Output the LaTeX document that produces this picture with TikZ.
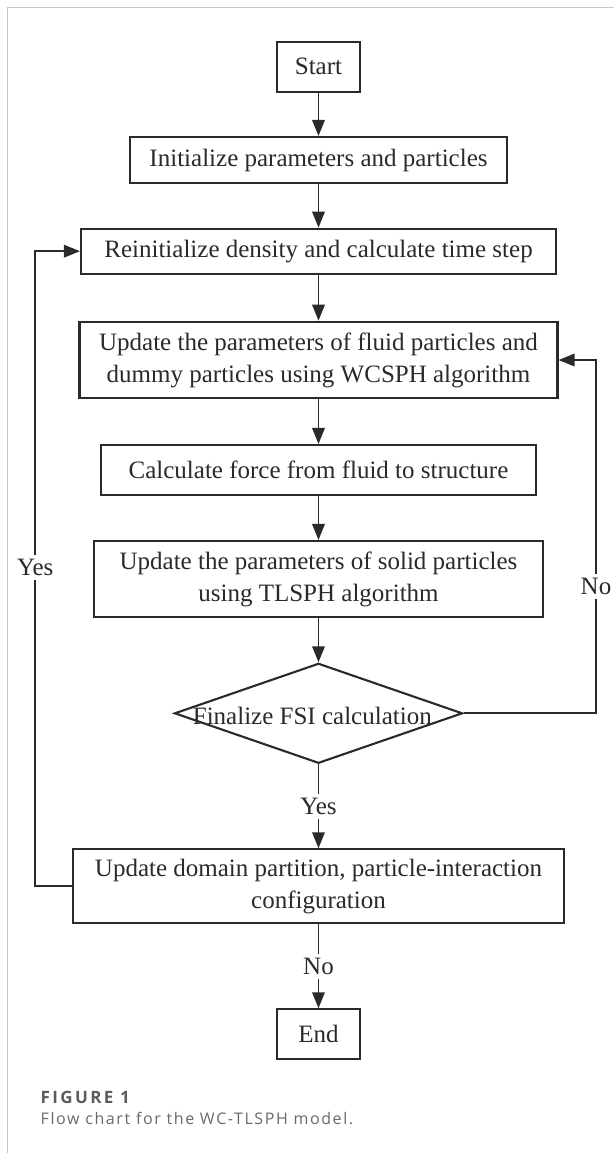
\documentclass[tikz,border=0pt]{standalone}
\usepackage{fontspec}
\setmainfont{Liberation Serif}
\newfontfamily\capfont[LetterSpace=10]{Open Sans}
\newfontfamily\caplabelfont[LetterSpace=14]{Open Sans}
\usetikzlibrary{shapes.geometric,arrows.meta}
\definecolor{ink}{HTML}{2A2A2A}
\definecolor{framegray}{HTML}{C8C8C8}
\definecolor{capdark}{HTML}{5C5C5C}
\definecolor{caplight}{HTML}{6A6A6A}
\tikzset{
  flowtext/.style={text=ink, font=\fontsize{25}{32}\selectfont},
  flowbox/.style={flowtext, draw=ink, line width=2.1pt, inner sep=0pt, align=center},
  flowarrow/.style={draw=ink, line width=1.9pt, -{Triangle[length=16pt,width=12.5pt]}},
  branch/.style={flowtext, fill=white, inner sep=4pt},
}
\begin{document}
\begin{tikzpicture}[x=1pt, y=-1pt]
  % page
  \fill[white] (0,0) rectangle (614,1153);
  \useasboundingbox (0,0) rectangle (614,1153);
  \draw[framegray, line width=1.2pt] (7.3,1153) -- (7.3,7.3) -- (614,7.3);

  % steps
  \node[flowbox, minimum width=83pt, minimum height=50pt] (start) at (318.5,66.7) {Start};
  \node[flowbox, minimum width=377pt, minimum height=46pt] (init) at (318.5,160) {Initialize parameters and particles};
  \node[flowbox, minimum width=475pt, minimum height=45pt] (reinit) at (318.5,251.2) {Reinitialize density and calculate time step};
  \node[flowbox, minimum width=478pt, minimum height=76.6pt] (fluid) at (318.5,360) {Update the parameters of fluid particles and\\dummy particles using WCSPH algorithm};
  \node[flowbox, minimum width=435pt, minimum height=50pt] (force) at (318.5,470) {Calculate force from fluid to structure};
  \node[flowbox, minimum width=449pt, minimum height=76pt] (solid) at (318.5,579) {Update the parameters of solid particles\\using TLSPH algorithm};
  \node[diamond, draw=ink, line width=2.1pt, minimum width=288pt, minimum height=100pt, inner sep=0pt] (dec) at (318.5,713.3) {};
  \node[flowtext, anchor=base, inner sep=0pt] (dectext) at (312.3,724) {Finalize FSI calculation};
  \node[flowbox, minimum width=491pt, minimum height=74pt] (domain) at (318.5,886.3) {Update domain partition, particle-interaction\\configuration};
  \node[flowbox, minimum width=83pt, minimum height=50pt] (end) at (318.5,1034.3) {End};

  % main flow
  \draw[flowarrow] (start) -- (init);
  \draw[flowarrow] (init) -- (reinit);
  \draw[flowarrow] (reinit) -- (fluid);
  \draw[flowarrow] (fluid) -- (force);
  \draw[flowarrow] (force) -- (solid);
  \draw[flowarrow] (solid) -- (dec.north);
  \draw[flowarrow] (dec.south) -- node[branch] {Yes} (domain);
  \draw[flowarrow] (domain) -- node[branch] {No} (end);

  % loops
  \coordinate (railL) at (35.2,567.3);
  \coordinate (railR) at (596,586.7);
  \draw[flowarrow] (domain.west) -| (railL) |- (reinit.west);
  \draw[flowarrow] (dec.east) -| (railR) |- (fluid.east);
  \node[branch] at (railL) {Yes};
  \node[branch] at (railR) {No};

  % caption
  \node[anchor=base west, inner sep=0pt, text=capdark, font=\caplabelfont\bfseries\fontsize{17}{20}\selectfont] (figlabel) at (40.5,1103.3) {FIGURE 1};
  \node[anchor=base west, inner sep=0pt, text=caplight, font=\capfont\fontsize{16}{19}\selectfont] (figcaption) at (40.5,1124.3) {Flow chart for the WC-TLSPH model.};
\end{tikzpicture}
\end{document}
